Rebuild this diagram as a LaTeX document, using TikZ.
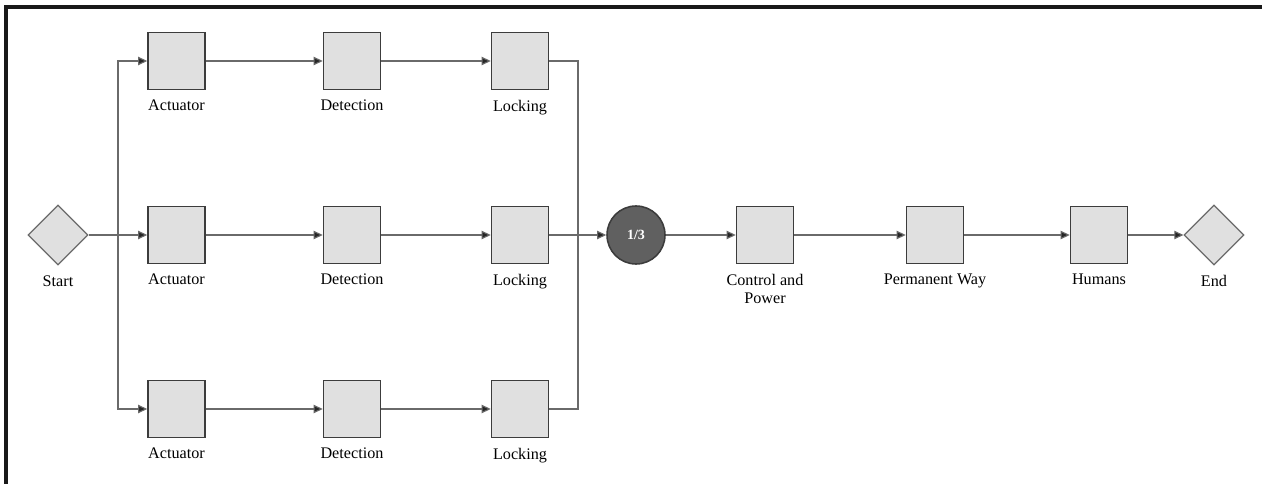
\documentclass[tikz,border=0pt]{standalone}
\usepackage{fontspec}
\setmainfont{Liberation Serif}
\usetikzlibrary{arrows.meta, shapes.geometric}
\definecolor{boxfill}{HTML}{E0E0E0}
\definecolor{boxedge}{HTML}{3C3C3C}
\definecolor{wiregray}{HTML}{6A6A6A}
\definecolor{votefill}{HTML}{606060}
\tikzset{
    block/.style={draw=boxedge, fill=boxfill, line width=1.1pt, minimum size=1.425cm, inner sep=0pt}, % component box
    gate/.style={diamond, draw=wiregray, fill=boxfill, line width=0.8pt, minimum width=1.5cm, minimum height=1.5cm, inner sep=0pt}, % start / end
    vote/.style={circle, draw=boxedge, fill=votefill, line width=1.1pt, minimum size=1.45cm, inner sep=0pt, text=white, font=\bfseries\fontsize{10}{12}\selectfont},
    lbl/.style={label distance=0.24cm, inner sep=0pt, align=center},
    wire/.style={draw=wiregray, line width=0.8pt},
    link/.style={wire, -{Triangle[length=6.5pt, width=6pt, fill=black!85]}},
    frame/.style={draw=black!90, line width=2.6pt}
}
\begin{document}
\begin{tikzpicture}[x=0.025cm, y=-0.025cm, font=\fontsize{11.5}{12.8}\selectfont]
    \useasboundingbox (0,0) rectangle (1262,484);
    \draw[frame] (1262,7) -- (6,7) -- (6,484);

    % three redundant branches
    \foreach \r/\y in {t/61, m/235, b/409} {
        \node[block, label={[lbl]below:Actuator}] (act-\r) at (176.5,\y) {};
        \node[block, label={[lbl]below:Detection}] (det-\r) at (352,\y) {};
        \node[block, label={[lbl]below:Locking}] (lock-\r) at (520,\y) {};
        \draw[link] (act-\r) -- (det-\r);
        \draw[link] (det-\r) -- (lock-\r);
    }

    \node[gate, label={[lbl]below:Start}] (start) at (58,235) {};
    \coordinate (split) at (118,235);
    \coordinate (merge) at (578,235);

    \node[vote] (vote) at (636,235) {1/3};
    \node[block, label={[lbl]below:Control and\\Power}] (ctrl) at (765,235) {};
    \node[block, label={[lbl]below:Permanent Way}] (perm) at (935,235) {};
    \node[block, label={[lbl]below:Humans}] (hum) at (1099,235) {};
    \node[gate, label={[lbl]below:End}] (finish) at (1214,235) {};

    \draw[link] (start) -- (act-m);
    \draw[link] (split) |- (act-t);
    \draw[link] (split) |- (act-b);
    \draw[wire] (lock-t) -| (merge);
    \draw[wire] (lock-b) -| (merge);
    \draw[link] (lock-m) -- (vote);
    \draw[link] (vote) -- (ctrl);
    \draw[link] (ctrl) -- (perm);
    \draw[link] (perm) -- (hum);
    \draw[link] (hum) -- (finish);
\end{tikzpicture}
\end{document}
